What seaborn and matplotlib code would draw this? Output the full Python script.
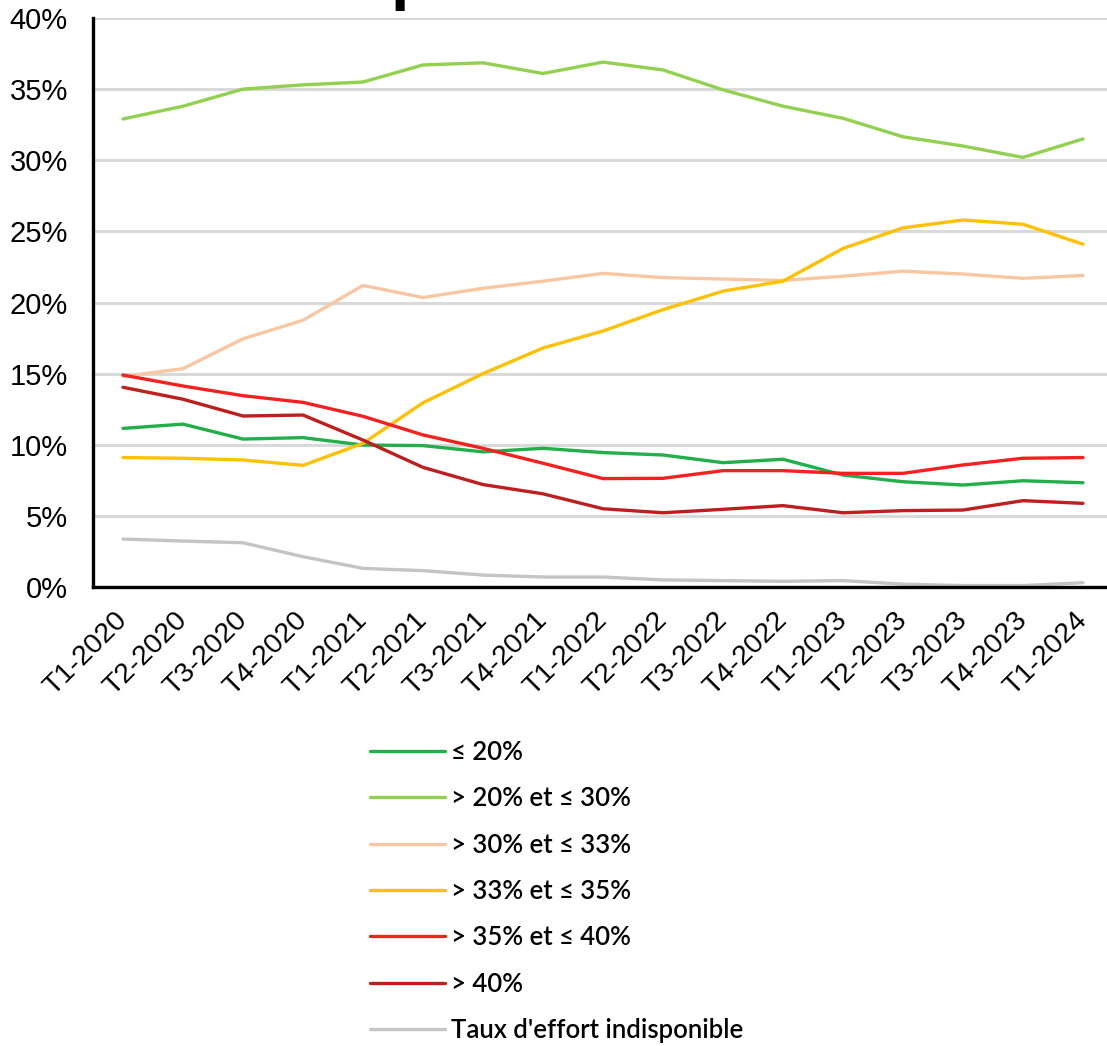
import numpy as np
import pandas as pd
import matplotlib
matplotlib.use("Agg")
import matplotlib.pyplot as plt
import seaborn as sns

# trimestres
periodes = ["T1-2020", "T2-2020", "T3-2020", "T4-2020",
            "T1-2021", "T2-2021", "T3-2021", "T4-2021",
            "T1-2022", "T2-2022", "T3-2022", "T4-2022",
            "T1-2023", "T2-2023", "T3-2023", "T4-2023",
            "T1-2024"]

# parts (%) par tranche de taux d'effort
le_20 = [11.15, 11.45, 10.4, 10.5, 9.98, 9.94, 9.5, 9.75, 9.45, 9.28,
         8.74, 8.98, 7.87, 7.4, 7.17, 7.47, 7.33]
de_20_30 = [32.9, 33.8, 35.0, 35.3, 35.5, 36.7, 36.85, 36.1, 36.9, 36.35,
            34.95, 33.8, 32.95, 31.65, 31.0, 30.2, 31.5]
de_30_33 = [14.8, 15.35, 17.45, 18.75, 21.2, 20.35, 21.0, 21.5, 22.05, 21.75,
            21.65, 21.55, 21.85, 22.2, 22.0, 21.7, 21.9]
de_33_35 = [9.1, 9.05, 8.93, 8.55, 10.1, 12.95, 15.0, 16.8, 18.0, 19.5,
            20.8, 21.5, 23.8, 25.25, 25.8, 25.5, 24.1]
de_35_40 = [14.9, 14.13, 13.45, 12.98, 12.0, 10.69, 9.75, 8.7, 7.62, 7.64,
            8.18, 8.18, 7.99, 7.99, 8.58, 9.05, 9.1]
sup_40 = [14.04, 13.2, 12.02, 12.09, 10.33, 8.41, 7.2, 6.55, 5.5, 5.22,
          5.46, 5.72, 5.22, 5.37, 5.41, 6.07, 5.88]
indispo = [3.37, 3.23, 3.11, 2.13, 1.31, 1.15, 0.84, 0.7, 0.7, 0.5,
           0.45, 0.4, 0.45, 0.2, 0.1, 0.1, 0.3]

series = {
    "≤ 20%": le_20,
    "> 20% et ≤ 30%": de_20_30,
    "> 30% et ≤ 33%": de_30_33,
    "> 33% et ≤ 35%": de_33_35,
    "> 35% et ≤ 40%": de_35_40,
    "> 40%": sup_40,
    "Taux d'effort indisponible": indispo,
}
couleurs = ["#22AE4A", "#92D050", "#F8C7A2", "#FFC000", "#F52020", "#BE1E1E", "#C4C4C4"]

rows = []
for nom, vals in series.items():
    for i, v in enumerate(vals):
        rows.append({"x": i, "periode": periodes[i], "tranche": nom, "valeur": v})
df = pd.DataFrame(rows)

sns.set_style("white")
plt.rcParams["font.family"] = ["Liberation Sans", "DejaVu Sans"]
plt.rcParams["text.color"] = "black"
plt.rcParams["xtick.color"] = "black"
plt.rcParams["ytick.color"] = "black"

fig = plt.figure(figsize=(11.07, 10.46), dpi=100)
ax = fig.add_axes([93 / 1107, 1 - 587 / 1046, 1 - 93 / 1107, (587 - 18) / 1046])

sns.lineplot(data=df, x="x", y="valeur", hue="tranche", hue_order=list(series.keys()),
             palette=couleurs, linewidth=2.4, ax=ax, legend=False)

ax.set_ylim(0, 40)
ax.set_xlim(-0.5, 16.4)
ax.set_yticks(np.arange(0, 41, 5))
ax.set_yticklabels([f"{v}%" for v in range(0, 41, 5)], fontsize=21)
ax.yaxis.grid(True, color="#D9D9D9", linewidth=2.2)
ax.set_axisbelow(True)

# graduations entre les trimestres, libellés au centre
ax.set_xticks(np.arange(-0.5, 16.5, 1))
ax.set_xticklabels([])
ax.set_xticks(np.arange(len(periodes)), minor=True)
ax.set_xticklabels(periodes, minor=True, rotation=45, ha="right", va="center",
                   rotation_mode="anchor", fontsize=20.5)
ax.tick_params(axis="x", which="minor", length=0, pad=21)
ax.tick_params(axis="x", which="major", length=8, width=2.2, color="black", direction="out")
ax.tick_params(axis="y", length=7, width=2.2, color="black", direction="out", pad=11)

for s in ["top", "right"]:
    ax.spines[s].set_visible(False)
for s in ["left", "bottom"]:
    ax.spines[s].set_color("black")
    ax.spines[s].set_linewidth(2.4)
ax.set_xlabel("")
ax.set_ylabel("")

# légende sous le graphique
handles = [plt.Line2D([], [], color=c, linewidth=2.4) for c in couleurs]
fig.legend(handles, list(series.keys()), loc="upper left",
           bbox_to_anchor=(370 / 1107, 1 - 740 / 1046), frameon=False,
           prop={"family": ["Lato", "DejaVu Sans"], "size": 18.5, "weight": "semibold"},
           handlelength=2.9, handletextpad=0.27, labelspacing=0.83, borderpad=0,
           borderaxespad=0)

# titre coupé en haut de l'image
fig.text(391 / 1107, 1.0 + 3 / 1046, "p", fontsize=48, fontweight="bold", va="baseline",
         family=["Liberation Sans", "DejaVu Sans"])

fig.savefig("out.png", dpi=100)
